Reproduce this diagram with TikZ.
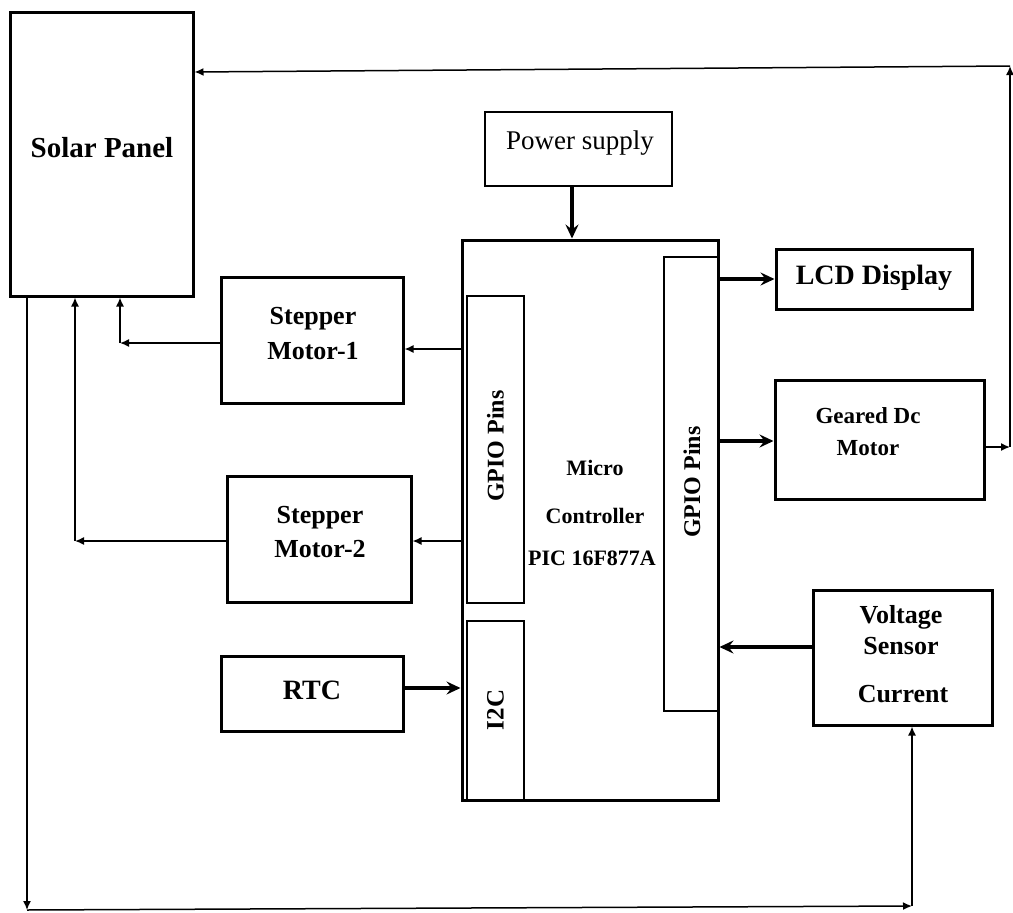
\documentclass[tikz,border=0pt]{standalone}
\usepackage{fontspec}
\setmainfont{Liberation Serif}
\usetikzlibrary{arrows.meta}
\begin{document}
\begin{tikzpicture}[x=1pt,y=-1pt,
  thickbox/.style={draw,line width=3pt,inner sep=0pt},
  thinbox/.style={draw,line width=1.2pt,inner sep=0pt},
  lbl/.style={font=\bfseries\fontsize{26}{28}\selectfont,inner sep=0pt},
  thk/.style={line width=3.4pt,-{Stealth[length=14pt,width=13pt,inset=5pt]}},
  thn/.style={line width=1.5pt,-{Latex[length=9pt,width=8pt]}}]
\useasboundingbox (0,0) rectangle (1013,913);
% boxes
\node[thickbox,minimum width=183pt,minimum height=284pt] (solar) at (101.5,154) {};
\node[thinbox,line width=1.6pt,minimum width=187pt,minimum height=74pt] (power) at (578.5,149) {};
\node[thickbox,minimum width=256pt,minimum height=560pt] (mcu) at (590,520) {};
\node[thinbox,minimum width=57pt,minimum height=307pt] (gpioL) at (495.5,449.5) {};
\node[thinbox,minimum width=57pt,minimum height=179pt] (i2c) at (495.5,710.5) {};
\node[thinbox,minimum width=54pt,minimum height=454pt] (gpioR) at (691,484) {};
\node[thickbox,minimum width=196pt,minimum height=60pt] (lcd) at (874,279) {};
\node[thickbox,minimum width=209pt,minimum height=119pt] (geared) at (879.5,439.5) {};
\node[thickbox,minimum width=179pt,minimum height=135pt] (vs) at (902.5,657.5) {};
\node[thickbox,minimum width=182pt,minimum height=126pt] (sm1) at (312,340) {};
\node[thickbox,minimum width=184pt,minimum height=126pt] (sm2) at (319,539) {};
\node[thickbox,minimum width=182pt,minimum height=75pt] (rtc) at (312,693.5) {};
% texts
\node[lbl,font=\bfseries\fontsize{29}{31}\selectfont] (tsolar) at (102,148) {Solar Panel};
\node[inner sep=0pt,font=\fontsize{27}{29}\selectfont] (tpower) at (580,143) {Power supply};
\node[lbl,rotate=90,font=\bfseries\fontsize{24}{26}\selectfont] (tgl) at (495.5,446) {GPIO Pins};
\node[lbl,rotate=90,font=\bfseries\fontsize{24}{26}\selectfont] (tgr) at (692,482) {GPIO Pins};
\node[lbl,rotate=90,font=\bfseries\fontsize{25}{27}\selectfont] (ti2c) at (495.5,710) {I2C};
\node[lbl,font=\bfseries\fontsize{22}{24}\selectfont] (tm1) at (595,468) {Micro};
\node[lbl,font=\bfseries\fontsize{22}{24}\selectfont] (tm2) at (595,516) {Controller};
\node[lbl,font=\bfseries\fontsize{22}{24}\selectfont] (tm3) at (592,558) {PIC 16F877A};
\node[lbl,font=\bfseries\fontsize{28}{30}\selectfont] (tlcd) at (874,278) {LCD Display};
\node[lbl,font=\bfseries\fontsize{23}{25}\selectfont] (tg1) at (868,416) {Geared Dc};
\node[lbl,font=\bfseries\fontsize{23}{25}\selectfont] (tg2) at (868,448) {Motor};
\node[lbl] (tv1) at (901,617) {Voltage};
\node[lbl] (tv2) at (901,646) {Sensor};
\node[lbl] (tv3) at (903,694) {Current};
\node[lbl] (ts11) at (313,319) {Stepper};
\node[lbl] (ts12) at (313,351) {Motor-1};
\node[lbl] (ts21) at (320,518) {Stepper};
\node[lbl] (ts22) at (320,549) {Motor-2};
\node[lbl,font=\bfseries\fontsize{28}{30}\selectfont] (trtc) at (312,690) {RTC};
% coordinates
\coordinate (j1) at (120,343);
\coordinate (j2) at (75,541);
\coordinate (b1) at (27,910);
\coordinate (b2) at (912,906);
\coordinate (t1) at (1010,66);
\coordinate (t2) at (1010,447);
% thick connectors
\draw[thk] (power.south -| 572,0) -- (mcu.north -| 572,0);
\draw[thk] (mcu.east |- lcd.west) -- (lcd.west);
\draw[thk] (mcu.east |- 0,441) -- (geared.west |- 0,441);
\draw[thk] (vs.west |- 0,647) -- (mcu.east |- 0,647);
\draw[thk] (rtc.east |- 0,688) -- (mcu.west |- 0,688);
% thin connectors
\draw[thn] (mcu.west |- 0,349) -- (sm1.east |- 0,349);
\draw[thn] (sm1.west |- j1) -- (j1);
\draw[thn] (j1) -- (j1 |- solar.south);
\draw[thn] (mcu.west |- j2) -- (sm2.east |- j2);
\draw[thn] (sm2.west |- j2) -- (j2);
\draw[thn] (j2) -- (j2 |- solar.south);
\draw[thn] (solar.south -| b1) -- (b1);
\draw[thn] (b1) -- (b2);
\draw[thn] (b2) -- (b2 |- vs.south);
\draw[thn] (geared.east |- t2) -- (t2);
\draw[thn] (t2) -- (t1);
\draw[thn] (t1) -- (solar.east |- 0,72);
\end{tikzpicture}
\end{document}
